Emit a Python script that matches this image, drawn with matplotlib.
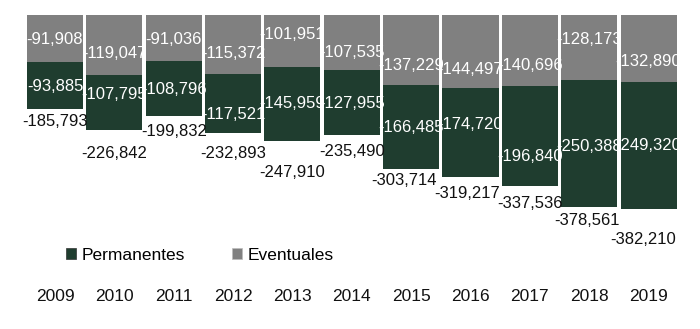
import matplotlib
matplotlib.use("Agg")
import matplotlib.pyplot as plt
from matplotlib.patches import Patch
import numpy as np

years = ["2009", "2010", "2011", "2012", "2013", "2014", "2015", "2016", "2017", "2018", "2019"]
eventuales = [91908, 119047, 91036, 115372, 101951, 107535, 137229, 144497, 140696, 128173, 132890]
permanentes = [93885, 107795, 108796, 117521, 145959, 127955, 166485, 174720, 196840, 250388, 249320]
totales = [185793, 226842, 199832, 232893, 247910, 235490, 303714, 319217, 337536, 378561, 382210]

# label placement tweaks (pixels, positive = downward)
ev_dy = [1, 8, 1, 9, -6, 10, 16, 18, 15, -8, 13]
pe_dy = [1, -8, 1, 11, 0, 1, 1, -8, 20, 3, 0]
tot_dy = [12.5, 23, 15.5, 20, 32, 16.5, 11, 16, 17, 13, 31]
tot_dx = [0, 0, 0, 0, 0, 0, -7, -3, 0, -2, -5]

plt.rcParams['font.family'] = ['Liberation Sans', 'DejaVu Sans']

W, H = 700, 329
fig = plt.figure(figsize=(W / 100, H / 100), dpi=100)
ax_left, ax_right = 25.3, 678.3
ax_top, ax_bottom = 15, 283
ax = fig.add_axes([ax_left / W, 1 - ax_bottom / H, (ax_right - ax_left) / W, (ax_bottom - ax_top) / H])

GRAY = "#808080"
GREEN = "#1f3d2f"
x = np.arange(len(years))
ev = -np.array(eventuales)
pe = -np.array(permanentes)
bw = 0.945
ax.bar(x, ev, width=bw, color=GRAY, edgecolor="none")
ax.bar(x, pe, bottom=ev, width=bw, color=GREEN, edgecolor="none")

ax.set_xlim(-0.5, len(years) - 0.5)
span_px = 194.0
ax.set_ylim(-max(totales) * (ax_bottom - ax_top) / span_px, 0)

fmt = lambda v: "-{:,}".format(v)
k = 0.72  # px -> points
for i in range(len(years)):
    ax.annotate(fmt(eventuales[i]), (x[i], ev[i] / 2), xytext=(0, -ev_dy[i] * k),
                textcoords="offset points", ha="center", va="center",
                color="white", fontsize=12)
    ax.annotate(fmt(permanentes[i]), (x[i], ev[i] + pe[i] / 2), xytext=(0, -pe_dy[i] * k),
                textcoords="offset points", ha="center", va="center",
                color="white", fontsize=12)
    ax.annotate(fmt(totales[i]), (x[i], ev[i] + pe[i]), xytext=(tot_dx[i] * k, -tot_dy[i] * k),
                textcoords="offset points", ha="center", va="center",
                color="#111111", fontsize=12)

ax.set_xticks(x)
ax.set_xticklabels(years, fontsize=12.5, color="#111111")
ax.tick_params(axis="x", length=0, pad=4)
ax.set_yticks([])
for s in ax.spines.values():
    s.set_visible(False)

handles = [Patch(facecolor=GREEN, edgecolor="#333333", linewidth=0.5),
           Patch(facecolor=GRAY, edgecolor="#bbbbbb", linewidth=0.5)]
fig.legend(handles, ["Permanentes", "Eventuales"], loc="center left",
           bbox_to_anchor=(66 / W, 1 - 255 / H), ncol=2, frameon=False,
           fontsize=12.5, handlelength=0.6, handleheight=0.6, handletextpad=0.3,
           columnspacing=2.7, borderpad=0, borderaxespad=0)

fig.savefig("out.png", dpi=100)
